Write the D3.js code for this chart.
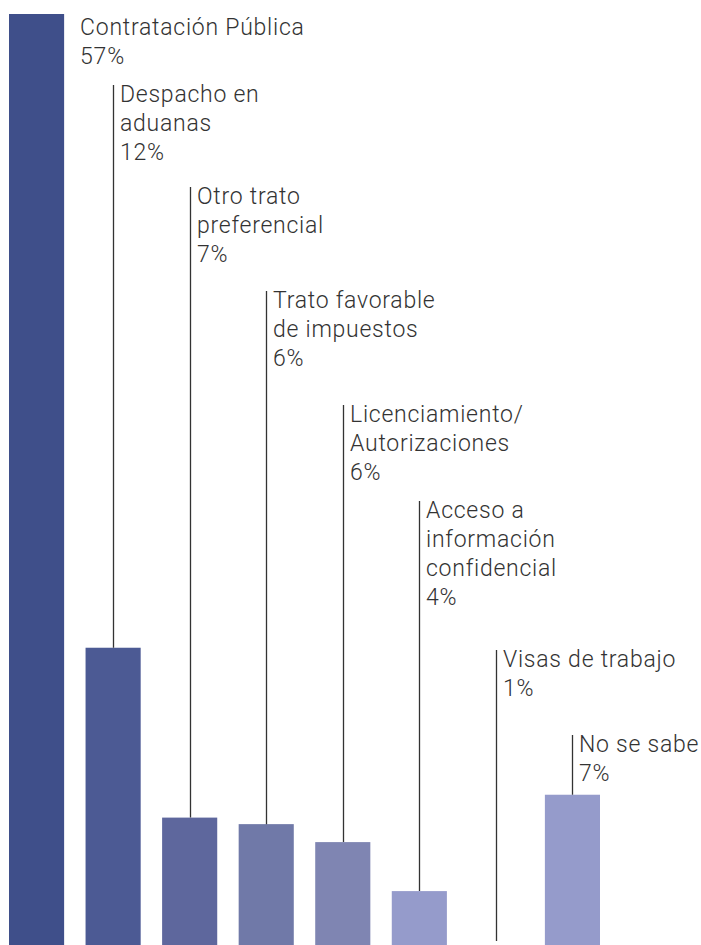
<!DOCTYPE html>
<html>
<head>
<meta charset="utf-8">
<script src="https://cdn.jsdelivr.net/npm/d3@7"></script>
<style>
  html, body { margin: 0; padding: 0; background: #fff; }
  svg text { font-family: Roboto, "Liberation Sans", sans-serif; font-weight: 300; fill: #333; letter-spacing: 0.75px; }
</style>
</head>
<body>
<div class="chart_area"></div>
<script>
// categories, as the label lines shown in the chart
var categories = [
  ["Contratación Pública"],
  ["Despacho en", "aduanas"],
  ["Otro trato", "preferencial"],
  ["Trato favorable", "de impuestos"],
  ["Licenciamiento/", "Autorizaciones"],
  ["Acceso a", "información", "confidencial"],
  ["Visas de trabajo"],
  ["No se sabe"]
];
// printed percentages
var pctLabels = ["57%", "12%", "7%", "6%", "6%", "4%", "1%", "7%"];
// bar heights as drawn (same units as the percentages)
var barValues = [57, 18.2, 7.8, 7.4, 6.3, 3.3, 0, 9.2];
var barColors = ["#3f4f8a", "#4c5a94", "#5e679d", "#7079a8", "#7f85b2", "#959bcb", "#959bcb", "#959bcb"];

// layout
var width = 701, height = 945;
var baseY = 945, topY = 14;
var labelTop = [null, 85, 187, 291, 405, 501, 650, 735]; // top of each leader line
var fontSize = 23, lineH = 29;

var svg = d3.select(".chart_area").append("svg")
  .attr("width", width)
  .attr("height", height);

var idx = d3.range(categories.length);

var x = d3.scaleBand()
  .domain(idx)
  .range([9, 600])
  .paddingInner(0.28)
  .paddingOuter(0);

var y = d3.scaleLinear()
  .domain([0, d3.max(barValues)])
  .range([baseY, topY]);

svg.append("g")
  .selectAll("rect")
  .data(idx)
  .enter().append("rect")
  .attr("x", function (i) { return x(i); })
  .attr("y", function (i) { return y(barValues[i]); })
  .attr("width", x.bandwidth())
  .attr("height", function (i) { return baseY - y(barValues[i]); })
  .style("fill", function (i) { return barColors[i]; });

// leader lines
svg.append("g")
  .selectAll("line")
  .data(idx.filter(function (i) { return labelTop[i] != null; }))
  .enter().append("line")
  .attr("x1", function (i) { return Math.round(x(i) + x.bandwidth() / 2) + 0.5; })
  .attr("x2", function (i) { return Math.round(x(i) + x.bandwidth() / 2) + 0.5; })
  .attr("y1", function (i) { return labelTop[i]; })
  .attr("y2", function (i) { return Math.min(y(barValues[i]), baseY - 4); })
  .style("stroke", "#333")
  .style("stroke-width", 1.3);

// labels
var lbl = svg.append("g")
  .selectAll("text")
  .data(idx)
  .enter().append("text")
  .attr("x", function (i) {
    if (labelTop[i] == null) return x(i) + x.bandwidth() + 16;
    return Math.round(x(i) + x.bandwidth() / 2) + 7;
  })
  .attr("y", function (i) {
    return labelTop[i] == null ? 35 : labelTop[i] + 17;
  })
  .style("font-size", fontSize + "px");

lbl.each(function (i) {
  var t = d3.select(this);
  var xx = t.attr("x");
  var lines = categories[i].concat([pctLabels[i]]);
  lines.forEach(function (s, k) {
    t.append("tspan")
      .attr("x", xx)
      .attr("dy", k == 0 ? 0 : lineH)
      .text(s);
  });
});
</script>
</body>
</html>
